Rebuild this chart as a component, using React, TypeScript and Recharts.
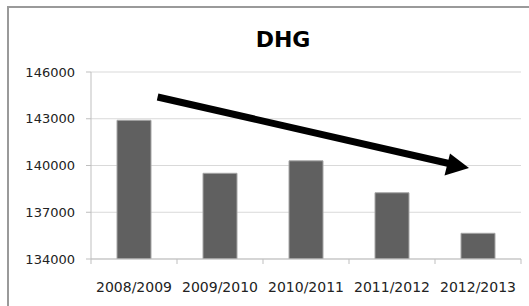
import { BarChart, Bar, XAxis, YAxis, CartesianGrid } from 'recharts';

const seasons = ['2008/2009', '2009/2010', '2010/2011', '2011/2012', '2012/2013'];
const dhgValues = [142900, 139500, 140300, 138250, 135650];
const yTicks = [134000, 137000, 140000, 143000, 146000];

const data = seasons.map((season, i) => ({ season, dhg: dhgValues[i] }));

const CHART_W = 529;
const CHART_H = 306;
const PLOT_LEFT = 91;
const PLOT_RIGHT = 8;
const PLOT_TOP = 72;
const X_AXIS_H = 47;
const AXIS_Y = CHART_H - X_AXIS_H;
const halfBand = (CHART_W - PLOT_LEFT - PLOT_RIGHT) / seasons.length / 2;

// Excel-style ticks sit between the categories, not under them
function SeasonTick(props: any) {
  const { x, y, payload, index } = props;
  return (
    <g>
      <line x1={x - halfBand} x2={x - halfBand} y1={AXIS_Y} y2={AXIS_Y + 5} stroke="#bfbfbf" />
      {index === seasons.length - 1 && (
        <line x1={x + halfBand} x2={x + halfBand} y1={AXIS_Y} y2={AXIS_Y + 5} stroke="#bfbfbf" />
      )}
      <text x={x} y={y} textAnchor="middle" dy="0.71em" fontSize={14} fill="#222" fontFamily="DejaVu Sans">
        {payload.value}
      </text>
    </g>
  );
}

export default function App() {
  return (
    <div style={{ position: 'absolute', left: 0, top: 0, width: CHART_W, height: CHART_H, background: '#fff', overflow: 'hidden' }}>
      <div style={{ position: 'absolute', left: 7, top: 6, width: 600, height: 400, borderLeft: '2px solid #9a9a9a', borderTop: '2px solid #9a9a9a' }} />
      <div style={{ position: 'absolute', left: 0, top: 0 }}>
        <BarChart width={CHART_W} height={CHART_H} data={data} margin={{ top: PLOT_TOP, right: PLOT_RIGHT, bottom: 0, left: 0 }}>
          <text x={283} y={47} textAnchor="middle" fontSize={22} fontWeight="bold" fill="#000" fontFamily="DejaVu Sans">
            DHG
          </text>
          <CartesianGrid vertical={false} stroke="#d9d9d9" />
          <XAxis
            dataKey="season"
            height={X_AXIS_H}
            tick={<SeasonTick />}
            tickLine={false}
            axisLine={{ stroke: '#bfbfbf' }}
            tickMargin={17}
            interval={0}
          />
          <YAxis
            domain={[134000, 146000]}
            ticks={yTicks}
            width={PLOT_LEFT}
            tick={{ fontSize: 13, fill: '#222', fontFamily: 'DejaVu Sans' }}
            tickLine={{ stroke: '#bfbfbf' }}
            axisLine={{ stroke: '#bfbfbf' }}
            tickSize={5}
            tickMargin={11}
            allowDataOverflow
          />
          <Bar dataKey="dhg" fill="#606060" stroke="#a6a6a6" strokeWidth={1} barSize={34} isAnimationActive={false} />
        </BarChart>
      </div>
      <svg width={CHART_W} height={CHART_H} style={{ position: 'absolute', left: 0, top: 0, pointerEvents: 'none' }}>
        <line x1={157.6} y1={97} x2={449} y2={163.5} stroke="#000" strokeWidth={7} />
        <polygon points="469,168 450,153.5 444.5,175.5" fill="#000" />
      </svg>
    </div>
  );
}
